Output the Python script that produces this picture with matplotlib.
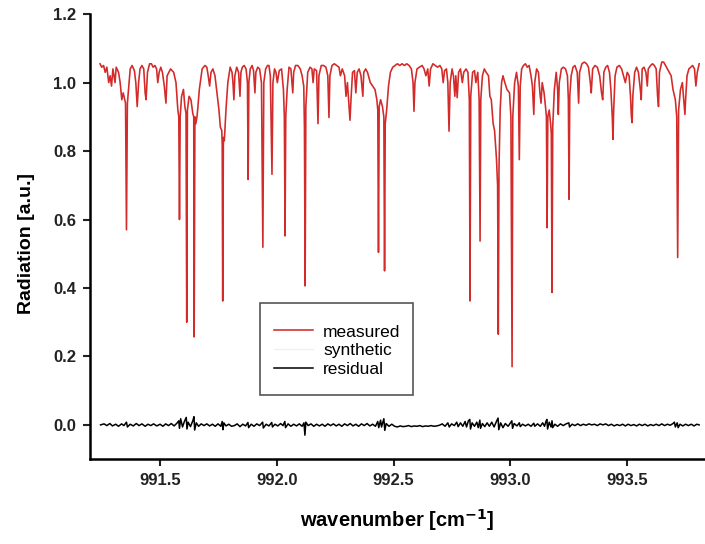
import matplotlib
matplotlib.use("Agg")
import matplotlib.pyplot as plt
from matplotlib.patches import Rectangle

plt.rcParams['font.family'] = ['Liberation Sans', 'DejaVu Sans']

# measured spectrum, vertices (wavenumber, radiation)
wn = [991.243, 991.250, 991.258, 991.265, 991.272, 991.280, 991.286, 991.292, 991.298, 991.307,
      991.312, 991.322, 991.329, 991.336, 991.342, 991.352, 991.356, 991.360, 991.366, 991.372,
      991.380, 991.390, 991.396, 991.402, 991.408, 991.414, 991.422, 991.430, 991.436, 991.440,
      991.446, 991.455, 991.463, 991.470, 991.478, 991.485, 991.490, 991.496, 991.503, 991.510,
      991.518, 991.525, 991.530, 991.545, 991.558, 991.568, 991.576, 991.580, 991.583, 991.586,
      991.592, 991.600, 991.606, 991.611, 991.614, 991.617, 991.624, 991.632, 991.640, 991.644,
      991.646, 991.649, 991.653, 991.658, 991.662, 991.668, 991.680, 991.692, 991.700, 991.706,
      991.712, 991.718, 991.726, 991.735, 991.745, 991.752, 991.758, 991.764, 991.766, 991.768,
      991.771, 991.775, 991.782, 991.790, 991.800, 991.808, 991.812, 991.816, 991.820, 991.828,
      991.836, 991.842, 991.846, 991.852, 991.860, 991.868, 991.874, 991.877, 991.880, 991.886,
      991.894, 991.900, 991.906, 991.910, 991.918, 991.926, 991.934, 991.940, 991.944, 991.952,
      991.960, 991.966, 991.972, 991.979, 991.983, 991.990, 991.996, 992.002, 992.010, 992.020,
      992.028, 992.032, 992.035, 992.038, 992.044, 992.052, 992.060, 992.068, 992.072, 992.080,
      992.090, 992.100, 992.108, 992.115, 992.118, 992.121, 992.124, 992.132, 992.142, 992.150,
      992.155, 992.160, 992.170, 992.176, 992.180, 992.190, 992.200, 992.210, 992.218, 992.223,
      992.227, 992.236, 992.246, 992.256, 992.266, 992.272, 992.280, 992.290, 992.296, 992.302,
      992.308, 992.313, 992.318, 992.324, 992.332, 992.338, 992.344, 992.352, 992.360, 992.368,
      992.372, 992.380, 992.388, 992.400, 992.420, 992.428, 992.432, 992.435, 992.438, 992.444,
      992.452, 992.458, 992.461, 992.464, 992.470, 992.478, 992.486, 992.496, 992.506, 992.516,
      992.526, 992.536, 992.546, 992.556, 992.566, 992.576, 992.583, 992.587, 992.591, 992.600,
      992.610, 992.622, 992.630, 992.638, 992.646, 992.652, 992.658, 992.668, 992.678, 992.688,
      992.698, 992.706, 992.712, 992.718, 992.726, 992.732, 992.737, 992.742, 992.750, 992.756,
      992.762, 992.766, 992.772, 992.778, 992.786, 992.794, 992.800, 992.810, 992.818, 992.824,
      992.827, 992.830, 992.838, 992.846, 992.852, 992.860, 992.866, 992.870, 992.873, 992.880,
      992.888, 992.896, 992.906, 992.912, 992.918, 992.926, 992.932, 992.940, 992.945, 992.948,
      992.951, 992.956, 992.962, 992.968, 992.976, 992.985, 992.996, 993.002, 993.007, 993.010,
      993.018, 993.026, 993.034, 993.038, 993.042, 993.048, 993.056, 993.064, 993.072, 993.080,
      993.088, 993.094, 993.100, 993.104, 993.112, 993.120, 993.126, 993.131, 993.136, 993.144,
      993.150, 993.154, 993.157, 993.160, 993.166, 993.172, 993.175, 993.178, 993.181, 993.188,
      993.196, 993.202, 993.205, 993.209, 993.218, 993.226, 993.236, 993.244, 993.248, 993.251,
      993.254, 993.260, 993.268, 993.276, 993.286, 993.292, 993.296, 993.306, 993.316, 993.326,
      993.334, 993.342, 993.346, 993.352, 993.362, 993.372, 993.382, 993.390, 993.395, 993.400,
      993.408, 993.416, 993.424, 993.430, 993.436, 993.439, 993.442, 993.448, 993.456, 993.466,
      993.476, 993.484, 993.492, 993.500, 993.508, 993.514, 993.518, 993.521, 993.524, 993.532,
      993.540, 993.548, 993.556, 993.560, 993.564, 993.572, 993.580, 993.586, 993.590, 993.600,
      993.608, 993.616, 993.624, 993.630, 993.634, 993.638, 993.648, 993.656, 993.664, 993.672,
      993.680, 993.688, 993.696, 993.706, 993.712, 993.716, 993.720, 993.728, 993.736, 993.742,
      993.747, 993.750, 993.756, 993.764, 993.772, 993.780, 993.788, 993.794, 993.800, 993.808]
rad = [1.055, 1.045, 1.050, 1.030, 1.045, 1.000, 1.020, 0.990, 1.040, 1.000,
       1.045, 1.030, 1.000, 0.950, 0.970, 0.940, 0.570, 0.940, 0.990, 1.040,
       1.050, 1.035, 1.000, 0.930, 1.000, 1.040, 1.050, 1.040, 0.970, 0.950,
       1.030, 1.055, 1.055, 1.045, 1.050, 1.040, 1.000, 1.030, 1.045, 1.030,
       0.990, 0.940, 1.020, 1.040, 1.030, 1.000, 0.920, 0.900, 0.600, 0.900,
       0.960, 0.980, 0.930, 0.910, 0.300, 0.920, 0.960, 0.950, 0.910, 0.900,
       0.257, 0.900, 0.880, 0.900, 0.930, 0.980, 1.040, 1.050, 1.045, 1.020,
       0.990, 1.030, 1.040, 1.020, 0.960, 0.920, 0.870, 0.860, 0.820, 0.362,
       0.840, 0.830, 0.920, 1.000, 1.045, 1.030, 1.000, 0.950, 1.020, 1.045,
       1.030, 0.960, 1.030, 1.045, 1.050, 1.040, 1.000, 0.717, 1.000, 1.040,
       1.050, 1.035, 0.970, 1.030, 1.045, 1.040, 1.000, 0.519, 1.000, 1.040,
       1.050, 1.050, 1.020, 0.732, 1.000, 1.040, 1.030, 1.000, 1.035, 1.040,
       0.980, 0.900, 0.552, 0.900, 0.980, 1.045, 1.040, 0.970, 1.030, 1.050,
       1.050, 1.040, 1.020, 0.990, 0.870, 0.406, 0.930, 1.030, 1.045, 1.040,
       1.000, 1.040, 1.035, 0.880, 1.020, 1.050, 1.050, 1.045, 1.020, 0.898,
       1.020, 1.050, 1.055, 1.050, 1.045, 1.020, 1.040, 1.020, 0.960, 1.000,
       0.940, 0.890, 0.960, 1.030, 1.035, 0.970, 1.030, 1.040, 1.020, 0.960,
       1.030, 1.040, 1.030, 1.000, 0.980, 0.950, 0.920, 0.504, 0.930, 0.950,
       0.930, 0.900, 0.450, 0.880, 0.920, 0.990, 1.030, 1.045, 1.050, 1.055,
       1.050, 1.055, 1.050, 1.055, 1.050, 1.040, 1.000, 0.916, 1.000, 1.040,
       1.045, 1.050, 1.040, 1.020, 1.040, 0.990, 1.040, 1.055, 1.050, 1.045,
       1.050, 1.040, 1.000, 1.035, 1.040, 1.000, 0.858, 1.000, 1.040, 1.020,
       0.960, 1.020, 0.956, 1.030, 1.040, 1.000, 1.030, 1.040, 1.030, 0.950,
       0.362, 0.960, 1.030, 1.035, 1.000, 1.030, 0.950, 0.537, 0.950, 1.020,
       1.040, 1.030, 1.020, 0.960, 0.950, 0.880, 0.860, 0.780, 0.700, 0.265,
       0.750, 0.920, 1.000, 1.020, 1.000, 0.980, 0.970, 0.900, 0.170, 0.900,
       1.000, 1.030, 0.990, 0.775, 0.990, 1.040, 1.050, 1.055, 1.045, 1.050,
       1.020, 0.990, 0.907, 1.000, 1.040, 1.030, 0.970, 0.940, 1.000, 0.970,
       0.930, 0.900, 0.576, 0.900, 0.920, 0.880, 0.850, 0.387, 0.870, 0.980,
       1.030, 0.980, 0.907, 1.000, 1.040, 1.045, 1.040, 1.020, 0.950, 0.659,
       0.960, 1.020, 1.045, 1.050, 1.030, 0.940, 1.030, 1.055, 1.060, 1.055,
       1.045, 1.000, 0.970, 1.040, 1.050, 1.045, 1.020, 0.970, 0.950, 1.030,
       1.045, 1.050, 1.030, 0.980, 0.900, 0.834, 0.920, 1.020, 1.045, 1.050,
       1.040, 1.020, 1.000, 1.030, 1.020, 0.960, 0.900, 0.883, 0.960, 1.030,
       1.045, 1.030, 0.980, 0.950, 1.040, 1.045, 1.030, 0.990, 1.040, 1.050,
       1.055, 1.050, 1.040, 0.960, 0.930, 1.030, 1.060, 1.060, 1.050, 1.040,
       1.030, 1.020, 0.980, 0.950, 0.900, 0.489, 0.920, 0.980, 1.000, 0.950,
       0.907, 0.950, 1.020, 1.040, 1.045, 1.050, 1.040, 0.990, 1.030, 1.055]

# residual (measured - synthetic)
res_wn = [991.245, 991.260, 991.272, 991.285, 991.296, 991.310, 991.322, 991.335, 991.345, 991.356,
          991.360, 991.372, 991.385, 991.398, 991.410, 991.422, 991.436, 991.448, 991.460, 991.472,
          991.486, 991.500, 991.512, 991.524, 991.536, 991.548, 991.560, 991.572, 991.580, 991.583,
          991.588, 991.596, 991.604, 991.612, 991.615, 991.620, 991.630, 991.640, 991.645, 991.648,
          991.655, 991.665, 991.676, 991.688, 991.700, 991.712, 991.724, 991.736, 991.748, 991.760,
          991.766, 991.769, 991.773, 991.782, 991.794, 991.806, 991.818, 991.830, 991.842, 991.854,
          991.866, 991.876, 991.879, 991.890, 991.902, 991.914, 991.926, 991.939, 991.942, 991.954,
          991.966, 991.978, 991.981, 991.992, 992.004, 992.016, 992.026, 992.034, 992.037, 992.048,
          992.060, 992.072, 992.084, 992.096, 992.108, 992.116, 992.120, 992.124, 992.134, 992.146,
          992.158, 992.170, 992.182, 992.194, 992.206, 992.218, 992.230, 992.242, 992.254, 992.266,
          992.278, 992.290, 992.302, 992.314, 992.326, 992.338, 992.350, 992.362, 992.374, 992.386,
          992.398, 992.410, 992.422, 992.432, 992.436, 992.444, 992.448, 992.458, 992.462, 992.468,
          992.480, 992.492, 992.504, 992.516, 992.528, 992.540, 992.552, 992.564, 992.576, 992.588,
          992.600, 992.612, 992.624, 992.636, 992.648, 992.660, 992.672, 992.684, 992.696, 992.708,
          992.720, 992.732, 992.738, 992.748, 992.760, 992.770, 992.776, 992.786, 992.796, 992.806,
          992.812, 992.820, 992.826, 992.829, 992.836, 992.846, 992.856, 992.862, 992.869, 992.872,
          992.880, 992.890, 992.900, 992.910, 992.920, 992.930, 992.940, 992.947, 992.950, 992.958,
          992.968, 992.978, 992.990, 993.000, 993.006, 993.009, 993.016, 993.028, 993.038, 993.042,
          993.052, 993.064, 993.076, 993.088, 993.100, 993.104, 993.116, 993.128, 993.138, 993.146,
          993.152, 993.156, 993.159, 993.166, 993.174, 993.178, 993.181, 993.190, 993.202, 993.214,
          993.226, 993.238, 993.250, 993.253, 993.264, 993.276, 993.288, 993.300, 993.312, 993.324,
          993.336, 993.348, 993.360, 993.372, 993.384, 993.396, 993.408, 993.420, 993.432, 993.444,
          993.456, 993.468, 993.480, 993.492, 993.504, 993.516, 993.528, 993.540, 993.552, 993.564,
          993.576, 993.588, 993.600, 993.612, 993.624, 993.636, 993.648, 993.660, 993.672, 993.684,
          993.696, 993.702, 993.706, 993.714, 993.718, 993.726, 993.738, 993.750, 993.762, 993.774,
          993.786, 993.798, 993.808]
res_val = [0.000, 0.003, -0.002, 0.004, -0.003, 0.002, -0.004, 0.003, -0.002, 0.008,
           -0.006, 0.002, -0.003, 0.004, -0.002, 0.003, -0.004, 0.002, -0.002, 0.003,
           -0.003, 0.002, -0.004, 0.003, -0.002, 0.004, -0.003, 0.005, 0.012, -0.010,
           0.018, -0.006, 0.010, 0.022, -0.012, 0.008, -0.005, 0.012, 0.024, -0.015,
           0.006, -0.004, 0.003, -0.002, 0.003, -0.003, 0.002, -0.004, 0.003, -0.004,
           0.010, -0.014, 0.006, -0.003, 0.002, -0.004, -0.002, 0.003, -0.005, 0.002,
           -0.003, 0.007, -0.008, 0.002, -0.004, 0.003, -0.002, 0.008, -0.009, 0.002,
           -0.003, 0.007, -0.006, 0.002, -0.003, 0.004, -0.002, 0.010, -0.008, 0.003,
           -0.004, 0.002, -0.003, 0.003, -0.004, 0.006, -0.030, 0.008, -0.002, 0.003,
           -0.004, 0.002, -0.003, 0.002, -0.004, 0.003, -0.002, 0.003, -0.003, 0.002,
           -0.004, 0.003, -0.002, 0.004, -0.003, 0.002, -0.004, 0.003, -0.002, 0.004,
           -0.003, 0.002, -0.004, 0.010, -0.008, 0.014, -0.006, 0.018, -0.016, 0.004,
           -0.004, 0.002, -0.004, -0.006, -0.003, -0.005, -0.004, -0.002, -0.005, -0.003,
           -0.004, -0.002, -0.005, -0.003, -0.004, -0.002, -0.004, -0.003, -0.001, 0.003,
           -0.004, 0.006, -0.006, 0.003, -0.002, 0.008, -0.005, 0.006, -0.004, 0.010,
           -0.006, 0.012, 0.016, -0.012, 0.006, -0.004, 0.008, -0.008, 0.014, -0.010,
           0.004, -0.005, 0.006, -0.004, 0.008, -0.006, 0.010, 0.020, -0.014, 0.006,
           -0.008, 0.004, -0.004, 0.006, 0.012, -0.010, 0.004, -0.003, 0.006, -0.005,
           0.002, -0.003, 0.002, -0.004, 0.005, -0.004, 0.003, -0.004, 0.006, -0.004,
           0.010, 0.016, -0.012, 0.008, -0.006, 0.012, -0.008, 0.002, -0.004, 0.003,
           -0.002, 0.003, 0.006, -0.006, 0.002, -0.002, 0.003, -0.002, 0.002, -0.001,
           0.003, 0.000, 0.002, -0.002, 0.003, 0.000, 0.003, -0.002, 0.002, -0.003,
           0.001, -0.002, 0.002, -0.003, 0.002, -0.002, 0.001, -0.003, 0.002, -0.002,
           0.002, -0.003, 0.001, -0.002, 0.002, -0.002, 0.003, -0.002, 0.002, -0.001,
           0.004, 0.008, -0.006, 0.006, -0.008, 0.002, -0.003, 0.002, -0.002, 0.002,
           -0.003, 0.002, 0.000]

fig = plt.figure(figsize=(7.05, 5.44), dpi=100)
ax = fig.add_axes([0.1277, 0.156, 0.8723, 0.818])

ax.plot(wn, rad, color='#f0f0f0', lw=1.0, label='synthetic', zorder=1)
ax.plot(wn, rad, color='#d42a2a', lw=1.15, label='measured', zorder=2)
ax.plot(res_wn, res_val, color='black', lw=1.1, label='residual', zorder=2)

ax.set_xlim(991.2, 993.833)
ax.set_ylim(-0.1, 1.2)
ax.set_xticks([991.5, 992.0, 992.5, 993.0, 993.5])
ax.set_yticks([0.0, 0.2, 0.4, 0.6, 0.8, 1.0, 1.2])
ax.xaxis.set_major_formatter(matplotlib.ticker.FormatStrFormatter('%.1f'))
ax.yaxis.set_major_formatter(matplotlib.ticker.FormatStrFormatter('%.1f'))

for s in ['top', 'right']:
    ax.spines[s].set_visible(False)
for s in ['left', 'bottom']:
    ax.spines[s].set_linewidth(1.8)
ax.tick_params(direction='out', length=5, width=1.5, labelsize=12, pad=5, colors='#222222')
for lab in ax.get_xticklabels() + ax.get_yticklabels():
    lab.set_fontweight('bold')

ax.set_xlabel('wavenumber [cm$^{\\mathbf{-1}}$]', fontsize=14.5, fontweight='bold', labelpad=14)
ax.set_ylabel('Radiation [a.u.]', fontsize=14, fontweight='bold', labelpad=12)
ax.yaxis.set_label_coords(-0.09, 0.484)

h, l = ax.get_legend_handles_labels()
order = [1, 0, 2]
leg = ax.legend([h[i] for i in order], [l[i] for i in order], loc='center left',
                bbox_to_anchor=(0.2992, 0.244), frameon=False,
                fontsize=12.5, borderpad=0, handlelength=2.25, labelspacing=0.2,
                handletextpad=0.57, borderaxespad=0)
ax.add_patch(Rectangle((0.2764, 0.1435), 0.2486, 0.2063, transform=ax.transAxes,
                       fill=False, edgecolor='#555555', lw=1.2, zorder=5))

fig.savefig('out.png', dpi=100)
